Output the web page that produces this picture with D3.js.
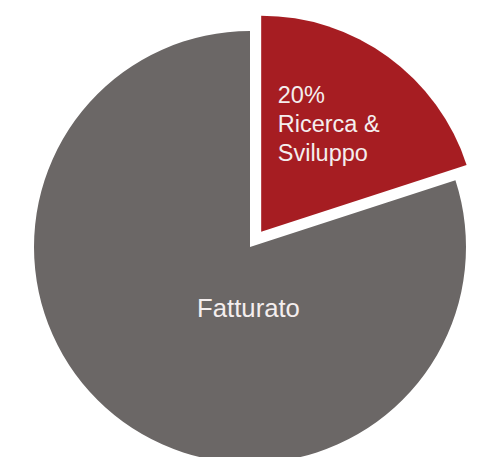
<!DOCTYPE html>
<html>
<head>
<meta charset="utf-8">
<script src="https://cdn.jsdelivr.net/npm/d3@7"></script>
<style>
html,body{margin:0;padding:0;background:#fff;}
svg{display:block;}
text{font-family:"Liberation Sans",Arial,Helvetica,sans-serif;fill:#f4eeee;}
</style>
</head>
<body>
<svg id="chart" width="486" height="457"></svg>
<script>
// Data
const categories = ["Ricerca & Sviluppo", "Fatturato"];
const values = [20, 80];
const labels = [["20%", "Ricerca &", "Sviluppo"], ["Fatturato"]];
const colors = ["#a61d22", "#6b6766"];
const exploded = [true, false];

const W = 486, H = 457;
const cx = 250, cy = 247, R = 216, explode = 19;

const svg = d3.select("#chart");
const g = svg.append("g").attr("transform", `translate(${cx},${cy})`);

const pie = d3.pie().sort(null).value(d => d.value).startAngle(0).endAngle(2 * Math.PI);
const data = categories.map((c, i) => ({name: c, value: values[i], color: colors[i], lines: labels[i], exploded: exploded[i]}));
const arcs = pie(data);
const arc = d3.arc().innerRadius(0).outerRadius(R);

function offset(d) {
  if (!d.data.exploded) return [0, 0];
  const a = (d.startAngle + d.endAngle) / 2;
  return [Math.sin(a) * explode, -Math.cos(a) * explode];
}

const slices = g.selectAll("g.slice").data(arcs).join("g")
  .attr("class", "slice")
  .attr("transform", d => { const o = offset(d); return `translate(${o[0]},${o[1]})`; });

slices.append("path").attr("d", arc).attr("fill", d => d.data.color);

// Labels
const labelArc = d3.arc().innerRadius(132).outerRadius(132);
slices.each(function(d) {
  const sel = d3.select(this);
  if (d.data.exploded) {
    const c = labelArc.centroid(d);
    const t = sel.append("text").attr("font-size", 23.5).attr("text-anchor", "start");
    d.data.lines.forEach((ln, i) => {
      t.append("tspan").attr("x", c[0] - 61).attr("y", c[1] - 22 + i * 29).text(ln);
    });
  } else {
    sel.append("text").attr("font-size", 25.7).attr("text-anchor", "middle")
      .attr("x", -1.5).attr("y", 70).text(d.data.lines[0]);
  }
});
</script>
</body>
</html>
